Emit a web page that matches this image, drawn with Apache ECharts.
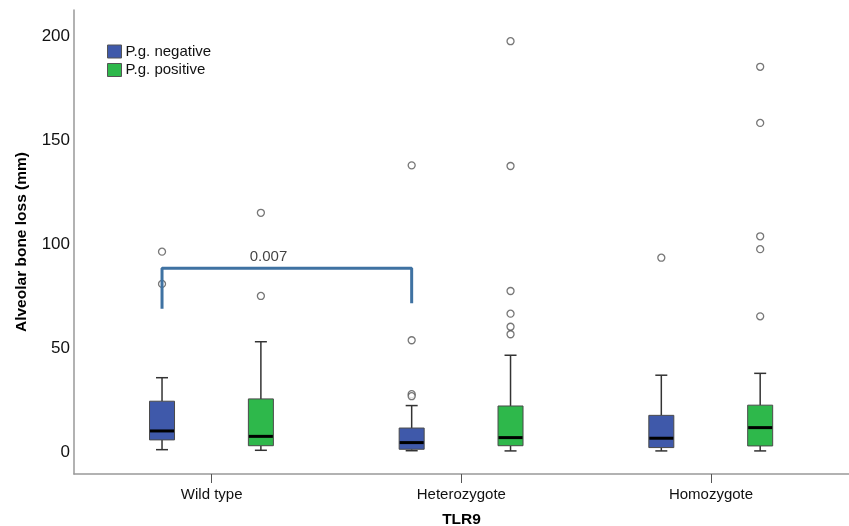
<!DOCTYPE html>
<html>
<head>
<meta charset="utf-8">
<script src="https://cdn.jsdelivr.net/npm/echarts@6/dist/echarts.min.js"></script>
<style>
  html, body { margin: 0; padding: 0; background: #fff; }
  #chart { width: 849px; height: 526px; }
</style>
</head>
<body>
<div id="chart"></div>
<script>
// categories
const groups = ['Wild type', 'Heterozygote', 'Homozygote'];
const seriesNames = ['P.g. negative', 'P.g. positive'];
// [min, Q1, median, Q3, max] per group
const negStats = [[1.1, 5.8, 10.1, 24.4, 35.7], [0.6, 1.3, 4.5, 11.5, 22.3], [0.5, 2.1, 6.6, 17.6, 36.9]];
const posStats = [[0.8, 3.0, 7.5, 25.5, 53.0], [0.5, 3.0, 6.9, 22.1, 46.5], [0.5, 2.9, 11.7, 22.5, 37.8]];
// outliers per group
const negOutliers = [[96.3, 80.8], [137.8, 53.7, 27.8, 26.8], [93.4]];
const posOutliers = [[115.0, 75.0], [197.5, 137.5, 77.4, 66.5, 60.2, 56.6], [185.2, 158.2, 103.7, 97.5, 65.2]];
const yTicks = [0, 50, 100, 150, 200];
// significance bracket between negative boxes of two groups
const bracketGroups = [0, 1];
const bracketY = [68.8, 88.3, 71.5]; // left end, top bar, right end
const pValue = '0.007';

const colors = ['#3F59AA', '#2EB84B'];
const offsets = [-0.199, 0.197];   // box offset from group centre (x units)
const BOX_W = 25, CAP_W = 12;
const FONT = "'Liberation Sans', Arial, sans-serif";

function boxData(stats, k) {
    return stats.map((s, i) => [i + 1 + offsets[k]].concat(s));
}
function outlierData(list, k) {
    const out = [];
    list.forEach((vals, i) => vals.forEach(v => out.push([i + 1 + offsets[k], v])));
    return out;
}

function renderBox(params, api) {
    const x = api.value(0);
    const pMin = api.coord([x, api.value(1)]);
    const pQ1 = api.coord([x, api.value(2)]);
    const pMed = api.coord([x, api.value(3)]);
    const pQ3 = api.coord([x, api.value(4)]);
    const pMax = api.coord([x, api.value(5)]);
    const cx = pMed[0];
    const line = (x1, y1, x2, y2, w, c) => ({
        type: 'line',
        shape: {x1: x1, y1: y1, x2: x2, y2: y2},
        style: {stroke: c, lineWidth: w}
    });
    return {
        type: 'group',
        children: [
            line(cx, pQ3[1], cx, pMax[1], 1.5, '#333'),
            line(cx - CAP_W / 2, pMax[1], cx + CAP_W / 2, pMax[1], 1.5, '#333'),
            line(cx, pQ1[1], cx, pMin[1], 1.5, '#333'),
            line(cx - CAP_W / 2, pMin[1], cx + CAP_W / 2, pMin[1], 1.5, '#333'),
            {
                type: 'rect',
                shape: {x: cx - BOX_W / 2, y: pQ3[1], width: BOX_W, height: pQ1[1] - pQ3[1]},
                style: {fill: api.visual('color'), stroke: '#4a4a4a', lineWidth: 1}
            },
            line(cx - BOX_W / 2 + 0.5, pMed[1], cx + BOX_W / 2 - 0.5, pMed[1], 3, '#000')
        ]
    };
}

const bx = bracketGroups.map(g => g + 1 + offsets[0]);
const bracketData = [[bx[0], bracketY[0]], [bx[0], bracketY[1]], [bx[1], bracketY[1]], [bx[1], bracketY[2]]];

const chart = echarts.init(document.getElementById('chart'));
chart.setOption({
    animation: false,
    backgroundColor: '#fff',
    textStyle: {fontFamily: FONT},
    grid: {left: 74, right: 0, top: 10, bottom: 52, outerBoundsMode: 'none', containLabel: false},
    legend: {
        data: seriesNames,
        orient: 'vertical',
        left: 102,
        top: 39,
        itemWidth: 14,
        itemHeight: 13,
        itemGap: 3.5,
        icon: 'rect',
        itemStyle: {borderColor: '#555', borderWidth: 1},
        textStyle: {fontFamily: FONT, fontSize: 15, color: '#111', padding: [0, 0, 0, -1]}
    },
    xAxis: {
        type: 'value',
        min: 0.4484,
        max: 3.5528,
        name: 'TLR9',
        nameLocation: 'middle',
        nameGap: 38,
        nameTextStyle: {fontFamily: FONT, fontSize: 15.5, fontWeight: 'bold', color: '#000'},
        splitLine: {show: false},
        axisLine: {show: true, onZero: false, lineStyle: {color: '#999', width: 1.5}},
        axisTick: {show: true, customValues: [1, 2, 3], length: 9, lineStyle: {color: '#555', width: 1}},
        axisLabel: {
            customValues: [1, 2, 3],
            formatter: v => groups[Math.round(v) - 1],
            margin: 13,
            fontFamily: FONT,
            fontSize: 15,
            color: '#111'
        }
    },
    yAxis: {
        type: 'value',
        min: -10.6,
        max: 212.5,
        name: 'Alveolar bone loss (mm)',
        nameLocation: 'middle',
        nameGap: 44,
        nameTextStyle: {fontFamily: FONT, fontSize: 15.5, fontWeight: 'bold', color: '#000'},
        splitLine: {show: false},
        axisLine: {show: true, onZero: false, lineStyle: {color: '#999', width: 1.5}},
        axisTick: {show: false},
        axisLabel: {
            customValues: yTicks,
            margin: 4,
            fontFamily: FONT,
            fontSize: 17,
            color: '#111'
        }
    },
    series: [
        {
            name: seriesNames[0],
            type: 'custom',
            renderItem: renderBox,
            itemStyle: {color: colors[0]},
            encode: {x: 0, y: [1, 2, 3, 4, 5]},
            data: boxData(negStats, 0),
            z: 3
        },
        {
            name: seriesNames[1],
            type: 'custom',
            renderItem: renderBox,
            itemStyle: {color: colors[1]},
            encode: {x: 0, y: [1, 2, 3, 4, 5]},
            data: boxData(posStats, 1),
            z: 3
        },
        {
            name: 'outliers',
            type: 'scatter',
            symbol: 'circle',
            symbolSize: 7,
            itemStyle: {color: '#fff', borderColor: '#555', borderWidth: 1.3},
            data: outlierData(negOutliers, 0).concat(outlierData(posOutliers, 1)),
            z: 4
        },
        {
            name: 'bracket',
            type: 'line',
            symbol: 'none',
            lineStyle: {color: '#3F72A2', width: 3},
            data: bracketData,
            z: 5
        },
        {
            name: 'p',
            type: 'scatter',
            symbolSize: 0,
            data: [[1.2275, 94.0]],
            label: {
                show: true,
                position: 'inside',
                formatter: pValue,
                fontFamily: FONT,
                fontSize: 15,
                color: '#111'
            },
            z: 5
        }
    ]
});
</script>
</body>
</html>
